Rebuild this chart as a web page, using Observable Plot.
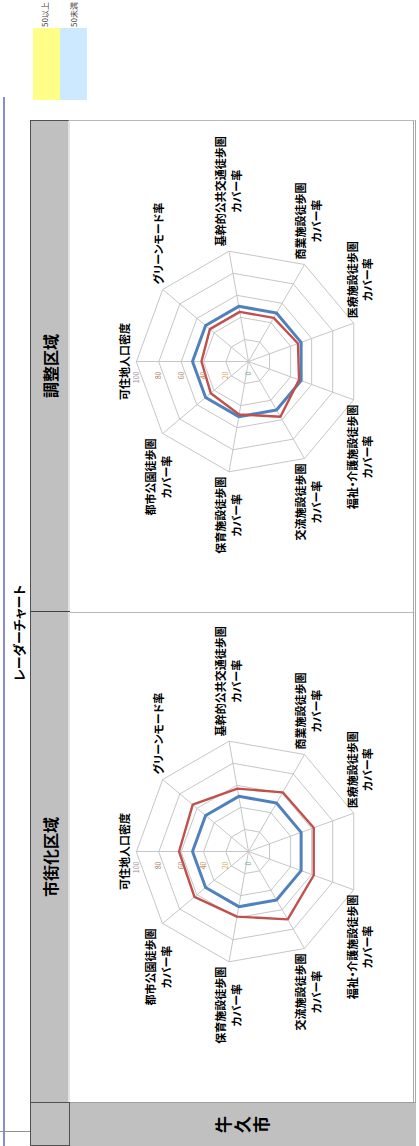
<!DOCTYPE html>
<html lang="ja">
<head>
<meta charset="utf-8">
<script src="https://cdn.jsdelivr.net/npm/d3@7"></script>
<script src="https://cdn.jsdelivr.net/npm/@observablehq/plot@0.6"></script>
<style>
html,body{margin:0;padding:0;background:#fff;overflow:hidden;width:419px;height:1146px}
#page{position:absolute;left:0;top:0;width:1146px;height:419px;transform-origin:0 0;transform:translateY(1146px) rotate(-90deg);font-family:'Noto Sans CJK JP',sans-serif;color:#000}
.abs{position:absolute;box-sizing:border-box}
svg text{font-feature-settings:"palt"}
.hdr{font-size:16px;font-weight:bold;line-height:40px;text-align:center;font-feature-settings:"palt"}
.leg{font-size:8px;color:#444;line-height:12px;white-space:nowrap}
</style>
</head>
<body>
<div id="page">
  <div class="abs" style="left:0;top:3px;width:1049px;height:1.5px;background:#8a8ad0"></div>
  <div class="abs" style="left:14px;top:0;width:1px;height:30px;background:#909090"></div>
  <div class="abs" style="left:413px;top:10px;width:200px;text-align:center;font-size:13px;font-weight:bold;line-height:18px;font-feature-settings:'palt'">レーダーチャート</div>

  <div class="abs" style="left:1046px;top:33px;width:72px;height:27px;background:#ffff88"></div>
  <div class="abs" style="left:1046px;top:60px;width:72px;height:27px;background:#cce9ff"></div>
  <div class="abs leg" style="left:1119px;top:39px">50以上</div>
  <div class="abs leg" style="left:1119px;top:68px">50未満</div>

  <div class="abs" style="left:0;top:30px;width:44px;height:40px;background:#c0c0c0;border:1px solid #505050"></div>
  <div class="abs" style="left:44px;top:30px;width:982px;height:40px;background:#c0c0c0;border-top:1px solid #505050;border-right:1px solid #505050;border-bottom:2px solid #e4e4e4"></div>
  <div class="abs" style="left:534px;top:30px;width:1px;height:40px;background:#404040"></div>
  <div class="abs hdr" id="h1" style="left:44px;top:30px;width:490px;height:40px"></div>
  <div class="abs hdr" id="h2" style="left:534px;top:30px;width:492px;height:40px"></div>

  <div class="abs" id="rowhdr" style="left:0;top:70px;width:44px;height:346px;background:#c0c0c0;border-right:1px solid #a0a0a0;display:flex;align-items:center;justify-content:center">
    <span id="rowlabel" style="writing-mode:vertical-rl;font-size:17px;font-weight:bold;letter-spacing:2px"></span>
  </div>
  <div class="abs" style="left:44px;top:70px;width:490px;height:346px;border-right:1px solid #b8b8b8;border-bottom:3px double #a8a8a8"></div>
  <div class="abs" style="left:534px;top:70px;width:492px;height:346px;border-right:1px solid #b8b8b8;border-bottom:3px double #a8a8a8"></div>

  <div class="abs" id="c1" style="left:44px;top:70px;width:490px;height:345px"></div>
  <div class="abs" id="c2" style="left:534px;top:70px;width:490px;height:345px"></div>
</div>
<script>
// ---- data ----
const areaName = "牛久市";
const panelTitles = ["市街化区域", "調整区域"];
const categories = [
  "可住地人口密度",
  "グリーンモード率",
  "基幹的公共交通徒歩圏\nカバー率",
  "商業施設徒歩圏\nカバー率",
  "医療施設徒歩圏\nカバー率",
  "福祉・介護施設徒歩圏\nカバー率",
  "交流施設徒歩圏\nカバー率",
  "保育施設徒歩圏\nカバー率",
  "都市公園徒歩圏\nカバー率"
];
const baselineValues = [50, 50, 50, 50, 50, 50, 50, 50, 50];
const shigaikaValues = [62, 65, 57, 61, 62, 62, 70, 59, 63];
const choseiValues   = [42, 45, 45, 45, 47, 48, 57, 48, 44];
const gridLevels = [20, 40, 60, 80, 100];
const tickValues = [0, 20, 40, 60, 80, 100];
const tickColors = ["#5f9ea0", "#d2a448", "#c8884a", "#a87858", "#a87858", "#a08898"];

document.getElementById("h1").textContent = panelTitles[0];
document.getElementById("h2").textContent = panelTitles[1];
document.getElementById("rowlabel").textContent = areaName;

const FONT = "'Noto Sans CJK JP', sans-serif";
const LABEL_SIZE = 11;
function textWidth(str) {
  const ns = "http://www.w3.org/2000/svg";
  const svg = document.createElementNS(ns, "svg");
  const t = document.createElementNS(ns, "text");
  t.setAttribute("style", `font-family:${FONT};font-size:${LABEL_SIZE}px;font-weight:bold;font-feature-settings:'palt'`);
  t.textContent = str;
  svg.appendChild(t);
  document.body.appendChild(svg);
  const w = t.getComputedTextLength();
  svg.remove();
  return w;
}

const n = categories.length;
const ang = i => 2 * Math.PI * i / n;

function radar(values) {
  const ring = gridLevels.flatMap(l => categories.map((c, i) => ({l, x: l * Math.sin(ang(i)), y: l * Math.cos(ang(i))})));
  const spokes = categories.map((c, i) => ({x: 100 * Math.sin(ang(i)), y: 100 * Math.cos(ang(i))}));
  const pts = vals => vals.map((v, i) => ({x: v * Math.sin(ang(i)), y: v * Math.cos(ang(i))}));
  const labelMarks = categories.map((c, i) => {
    const s = Math.sin(ang(i)), co = Math.cos(ang(i));
    const w = Math.max(...c.split("\n").map(textWidth));
    const side = Math.abs(s) < 0.05 ? 0 : Math.sign(s);
    const dx = side * (w / 2 + 5);
    const dy = side === 0 ? -13 : -6 * co;
    return Plot.text([c], {
      x: () => 100 * s, y: () => 100 * co, text: d => d,
      textAnchor: "middle", lineAnchor: "middle", lineHeight: 1.45,
      dx, dy, fontSize: LABEL_SIZE, fontWeight: "bold", fill: "#000"
    });
  });
  return Plot.plot({
    width: 490, height: 345, margin: 0,
    x: {domain: [-100, 100], range: [250 - 112, 250 + 112], axis: null},
    y: {domain: [-100, 100], range: [178 + 112, 178 - 112], axis: null},
    color: {type: "identity"},
    style: {background: "transparent", fontFamily: FONT, overflow: "visible"},
    marks: [
      Plot.line(ring, {x: "x", y: "y", z: "l", curve: "linear-closed", stroke: "#c6c6c6", strokeWidth: 1}),
      Plot.link(spokes, {x1: () => 0, y1: () => 0, x2: "x", y2: "y", stroke: "#c6c6c6", strokeWidth: 1}),
      Plot.line(pts(baselineValues), {x: "x", y: "y", curve: "linear-closed", stroke: "#4f81bd", strokeWidth: 3, strokeLinejoin: "miter"}),
      Plot.line(pts(values), {x: "x", y: "y", curve: "linear-closed", stroke: "#c0504d", strokeWidth: 2.4, strokeLinejoin: "miter"}),
      Plot.text(tickValues, {x: () => 0, y: d => d, text: d => String(d), fill: (d, i) => tickColors[i],
        textAnchor: "end", dx: -10, fontSize: 7}),
      ...labelMarks
    ]
  });
}

document.getElementById("c1").appendChild(radar(shigaikaValues));
document.getElementById("c2").appendChild(radar(choseiValues));
</script>
</body>
</html>
